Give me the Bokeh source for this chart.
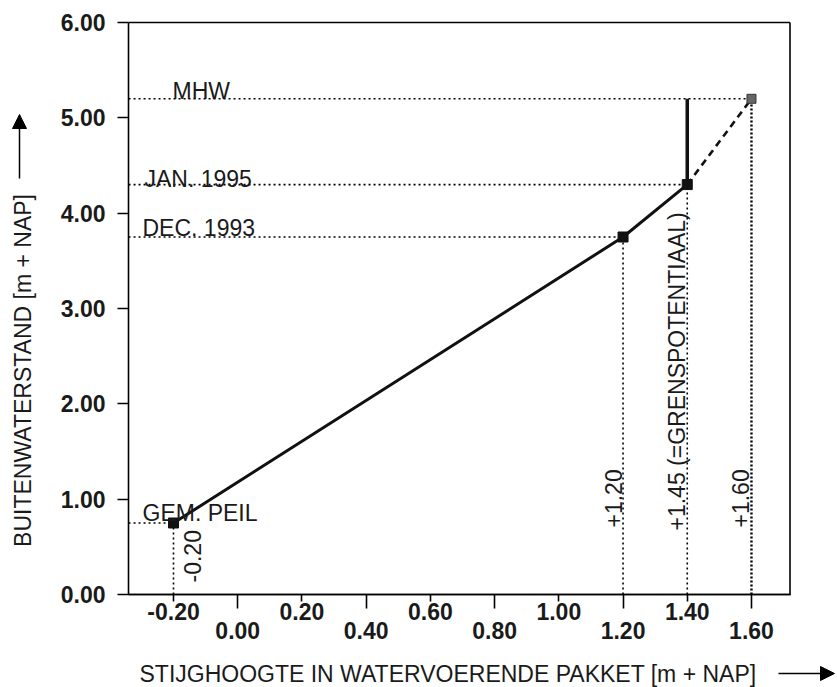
import math
from bokeh.plotting import figure
from bokeh.models import (Range1d, FixedTicker, PrintfTickFormatter, LinearAxis,
                          Arrow, NormalHead)
from bokeh.core.properties import value
from bokeh.embed import file_html
from bokeh.resources import INLINE

# ---------------- data ----------------
x_pts = [-0.20, 1.20, 1.40]          # stijghoogte (m + NAP)
y_pts = [0.75, 3.75, 4.30]           # buitenwaterstand (m + NAP)
mhw_x = 1.60
mhw_y = 5.20

level_names = ["GEM. PEIL", "DEC. 1993", "JAN. 1995", "MHW"]
level_y = [0.75, 3.75, 4.30, 5.20]
level_x = [-0.20, 1.20, 1.40, 1.60]
vert_labels = ["-0.20", "+1.20", "+1.45 (=GRENSPOTENTIAAL)", "+1.60"]

x_ticks_upper = [-0.20, 0.20, 0.60, 1.00, 1.40]
x_labels_upper = ["-0.20", "0.20", "0.60", "1.00", "1.40"]
x_ticks_lower = [0.00, 0.40, 0.80, 1.20, 1.60]
x_labels_lower = ["0.00", "0.40", "0.80", "1.20", "1.60"]
y_ticks = [0, 1, 2, 3, 4, 5, 6]

x_title = "STIJGHOOGTE IN WATERVOERENDE PAKKET [m + NAP]"
y_title = "BUITENWATERSTAND [m + NAP]"

# ---------------- styling / layout ----------------
FONT = "Liberation Sans"
FS = "23px"
W, H = 837, 687
BOX_X0, BOX_X1 = -0.34, 1.72       # plotting box
BOX_Y0, BOX_Y1 = 0.0, 6.0
PX_X = 321.1                       # px per x unit
PX_Y = 95.33                       # px per y unit
ORIG_PX = (173.0, 594.0)           # canvas px of data point (-0.20, 0.00)

def X(px):
    return -0.20 + (px - ORIG_PX[0]) / PX_X

def Y(py):
    return (ORIG_PX[1] - py) / PX_Y

p = figure(width=W, height=H, output_backend="svg", toolbar_location=None,
           x_range=Range1d(X(0), X(W)), y_range=Range1d(Y(H), Y(0)), min_border=0)
p.title.visible = False
p.background_fill_color = "white"
p.border_fill_color = "white"
p.outline_line_color = None
p.xgrid.visible = False
p.ygrid.visible = False
INK = "#1a1a1a"

# y axis
ya = p.yaxis[0]
ya.fixed_location = BOX_X0
ya.bounds = (BOX_Y0, BOX_Y1)
ya.ticker = FixedTicker(ticks=y_ticks)
ya.formatter = PrintfTickFormatter(format="%.2f")
ya.major_tick_out = 11
ya.major_tick_in = 0
ya.minor_tick_out = 0
ya.minor_tick_in = 0
ya.major_tick_line_width = 1.6
ya.axis_line_width = 1.6
ya.major_label_standoff = 12
ya.major_label_text_font = FONT
ya.major_label_text_font_size = FS
ya.major_label_text_font_style = "bold"
ya.major_label_text_color = INK

def style_x(ax, ticks, tick_out):
    ax.fixed_location = BOX_Y0
    ax.bounds = (BOX_X0, BOX_X1)
    ax.ticker = FixedTicker(ticks=ticks)
    ax.major_label_overrides = {t: "" for t in ticks}
    ax.major_tick_out = tick_out
    ax.major_tick_in = 0
    ax.minor_tick_out = 0
    ax.minor_tick_in = 0
    ax.major_tick_line_width = 1.6
    ax.axis_line_width = 1.6

style_x(p.xaxis[0], x_ticks_upper, 7)
xb = LinearAxis()
p.add_layout(xb, "below")
style_x(xb, x_ticks_lower, 14)

# staggered x tick labels
p.text(x=x_ticks_upper, y=[Y(611)] * len(x_ticks_upper), text=x_labels_upper,
       text_font=value(FONT), text_font_size=value(FS), text_font_style="bold",
       text_align="center", text_baseline="middle", text_color=INK)
p.text(x=x_ticks_lower, y=[Y(630)] * len(x_ticks_lower), text=x_labels_lower,
       text_font=value(FONT), text_font_size=value(FS), text_font_style="bold",
       text_align="center", text_baseline="middle", text_color=INK)

# top and right border of the box
p.segment(x0=[BOX_X0, BOX_X1], y0=[BOX_Y1, BOX_Y0], x1=[BOX_X1, BOX_X1], y1=[BOX_Y1, BOX_Y1],
          line_color="black", line_width=1.6)

# axis titles with arrows
p.text(x=[X(139)], y=[Y(673)], text=[x_title], text_font=value(FONT), text_font_size=value(FS),
       text_align="left", text_baseline="middle", text_color=INK)
p.add_layout(Arrow(end=NormalHead(size=14, fill_color="black", line_color="black"),
                   x_start=X(778), y_start=Y(673), x_end=X(834), y_end=Y(673),
                   line_color="black", line_width=1.5))
p.text(x=[X(22)], y=[Y(370)], text=[y_title], text_font=value(FONT), text_font_size=value(FS),
       text_align="center", text_baseline="middle", angle=math.pi / 2, text_color=INK)
p.add_layout(Arrow(end=NormalHead(size=14, fill_color="black", line_color="black"),
                   x_start=X(19), y_start=Y(178), x_end=X(19), y_end=Y(114),
                   line_color="black", line_width=1.5))

# dotted reference lines
p.segment(x0=[BOX_X0] * len(level_y), y0=level_y, x1=level_x, y1=level_y,
          line_color="black", line_width=1.6, line_dash="2 3")
p.segment(x0=level_x[:3], y0=[BOX_Y0] * 3, x1=level_x[:3], y1=level_y[:3],
          line_color="black", line_width=1.6, line_dash="2 3")
p.segment(x0=[level_x[3]], y0=[BOX_Y0], x1=[level_x[3]], y1=[level_y[3]],
          line_color="black", line_width=2.4, line_dash="2 2")

# main curve
p.line(x_pts, y_pts, line_color="#111111", line_width=3)
p.line([x_pts[-1], x_pts[-1]], [y_pts[-1], mhw_y], line_color="#111111", line_width=3.5)
p.line([x_pts[-1], mhw_x], [y_pts[-1], mhw_y], line_color="#111111", line_width=2.6,
       line_dash="7 5")
p.scatter(x_pts, y_pts, marker="square", size=10, fill_color="#111111", line_color="#111111")
p.scatter([mhw_x], [mhw_y], marker="square", size=9, fill_color="#666666", line_color="#333333")

# level labels (left, just above their dotted line)
lab_px_x = [142, 142, 144, 172]
lab_px_gap = [10, 9, 6, 8]
p.text(x=[X(v) for v in lab_px_x], y=[v + g / PX_Y for v, g in zip(level_y, lab_px_gap)],
       text=level_names, text_font=value(FONT), text_font_size=value(FS), text_align="left",
       text_baseline="alphabetic", text_color=INK)

# vertical value labels
vx_px_off = [19, -10, -10, -11]
vy_px_start = [582, 527, 530, 527]
p.text(x=[a + o / PX_X for a, o in zip(level_x, vx_px_off)], y=[Y(v) for v in vy_px_start],
       text=vert_labels, text_font=value(FONT), text_font_size=value(FS), text_align="left",
       text_baseline="middle", angle=math.pi / 2, text_color=INK)

open("out.html", "w").write(file_html(p, INLINE))
